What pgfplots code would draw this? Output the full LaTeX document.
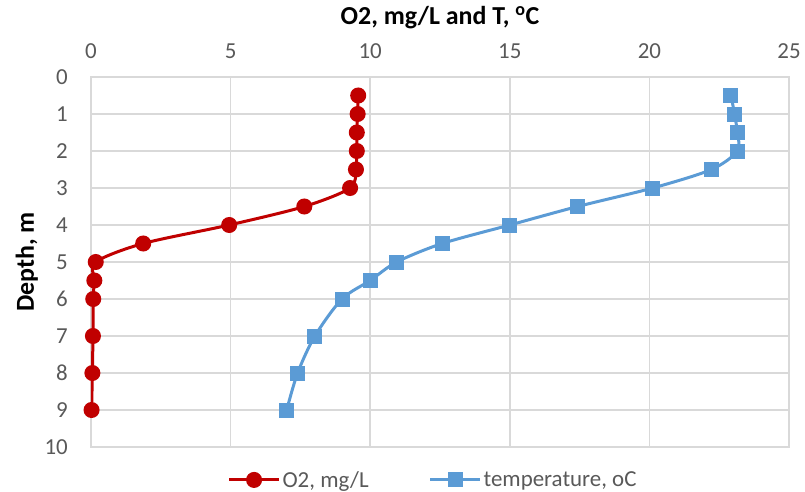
\documentclass[border=0pt]{standalone}
\usepackage{pgfplots}
\pgfplotsset{compat=1.18}
\usepackage{fontspec}
\setmainfont{Carlito}
\definecolor{oxred}{HTML}{C00000}
\definecolor{tblue}{HTML}{5B9BD5}
\definecolor{gridgray}{HTML}{D9D9D9}
\definecolor{txt}{HTML}{595959}
\begin{document}
\begin{tikzpicture}
\begin{axis}[
  name=ax,
  width=698bp, height=370bp, scale only axis,
  xmin=0, xmax=25, ymin=0, ymax=10,
  y dir=reverse,
  xtick={0,5,...,25}, ytick={0,1,...,10},
  xticklabel pos=upper,
  grid=major,
  major grid style={gridgray, line width=1.5bp},
  axis line style={gridgray, line width=1.5bp},
  major tick length=0pt,
  tick label style={font=\fontsize{23}{26}\selectfont, text=txt},
  /pgf/number format/assume math mode=true,
  xticklabel style={anchor=base, inner sep=0pt, yshift=19bp},
  yticklabel style={anchor=east, inner sep=0pt, xshift=-23bp},
  title={\textbf{O2, mg/L and T, \textsuperscript{o}C}},
  title style={font=\fontsize{26}{30}\selectfont, text=black,
    at={(0.5,1)}, anchor=base, inner sep=0pt, yshift=47bp},
  ylabel={\textbf{Depth, m}},
  ylabel style={font=\fontsize{26}{30}\selectfont, text=black,
    at={(axis description cs:-0.092,0.5)}, anchor=center},
  legend style={at={(0.49,-0.089)}, anchor=center, draw=none,
    font=\fontsize{23}{26}\selectfont, text=txt,
    /tikz/every even column/.append style={column sep=58bp}},
  legend columns=2,
  legend image code/.code={
    \draw[#1, mark repeat=2, mark phase=2] plot coordinates {(0bp,0bp) (25bp,0bp) (50bp,0bp)};},
]
\addplot[oxred, line width=3bp, smooth, mark=*, mark size=6.5bp]
  coordinates {
  (9.57,0.5) (9.55,1) (9.52,1.5) (9.52,2) (9.49,2.5) (9.28,3)
  (7.64,3.5) (4.95,4) (1.87,4.5) (0.17,5) (0.12,5.5) (0.08,6)
  (0.07,7) (0.05,8) (0.02,9)
  };
\addlegendentry{O2, mg/L}
\addplot[tblue, line width=3bp, smooth, mark=square*, mark size=6bp]
  coordinates {
  (22.92,0.5) (23.05,1) (23.15,1.5) (23.15,2) (22.22,2.5) (20.12,3)
  (17.43,3.5) (15.0,4) (12.58,4.5) (10.95,5) (10.0,5.5) (8.99,6)
  (8.02,7) (7.40,8) (7.01,9)
  };
\addlegendentry{temperature, oC}
\end{axis}
\pgfresetboundingbox
\path ([xshift=-91bp,yshift=-45bp]ax.south west) rectangle ([xshift=16bp,yshift=77bp]ax.north east);
\end{tikzpicture}
\end{document}
